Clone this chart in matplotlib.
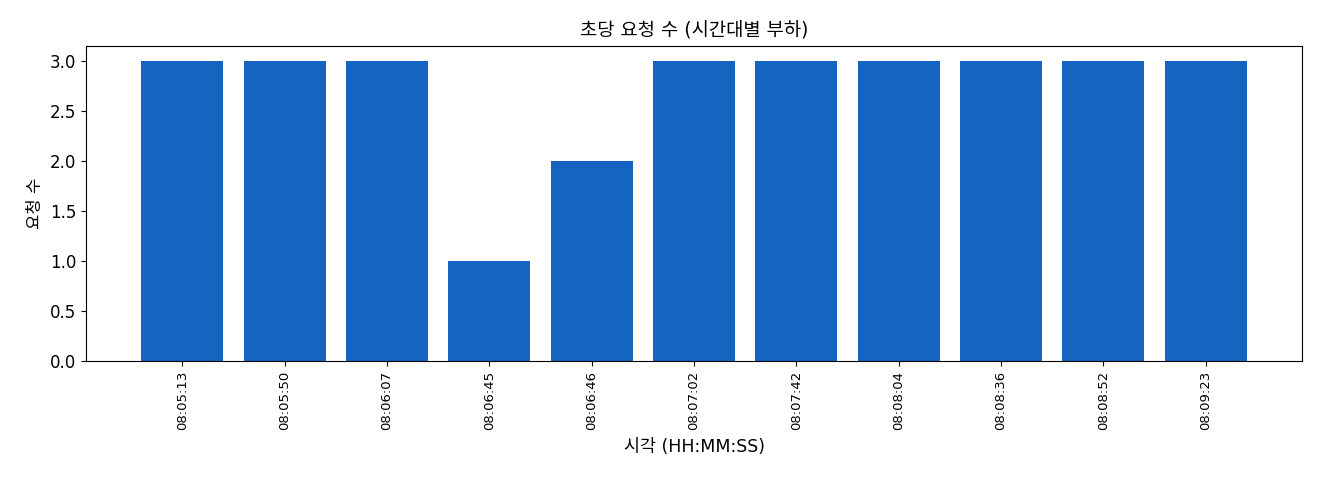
import matplotlib
matplotlib.use("Agg")
import matplotlib.pyplot as plt

plt.rcParams['font.family'] = ['DejaVu Sans', 'Noto Sans CJK KR']

times = ["08:05:13", "08:05:50", "08:06:07", "08:06:45", "08:06:46", "08:07:02",
         "08:07:42", "08:08:04", "08:08:36", "08:08:52", "08:09:23"]
counts = [3, 3, 3, 1, 2, 3, 3, 3, 3, 3, 3]

fig = plt.figure(figsize=(13.2, 4.8), dpi=100)
ax = fig.add_axes([86/1320, 1 - 361/480, (1302-86)/1320, (361-46)/480])
ax.bar(range(len(times)), counts, color="#1565C0", width=0.8)
ax.set_xticks(range(len(times)))
ax.set_xticklabels(times, rotation=90, fontsize=9.5)
ax.tick_params(axis='y', labelsize=12)
ax.set_title("초당 요청 수 (시간대별 부하)", fontsize=13.5, pad=7)
ax.set_xlabel("시각 (HH:MM:SS)", fontsize=12.5, labelpad=6)
ax.set_ylabel("요청 수", fontsize=12)
fig.savefig("out.png", dpi=100)
